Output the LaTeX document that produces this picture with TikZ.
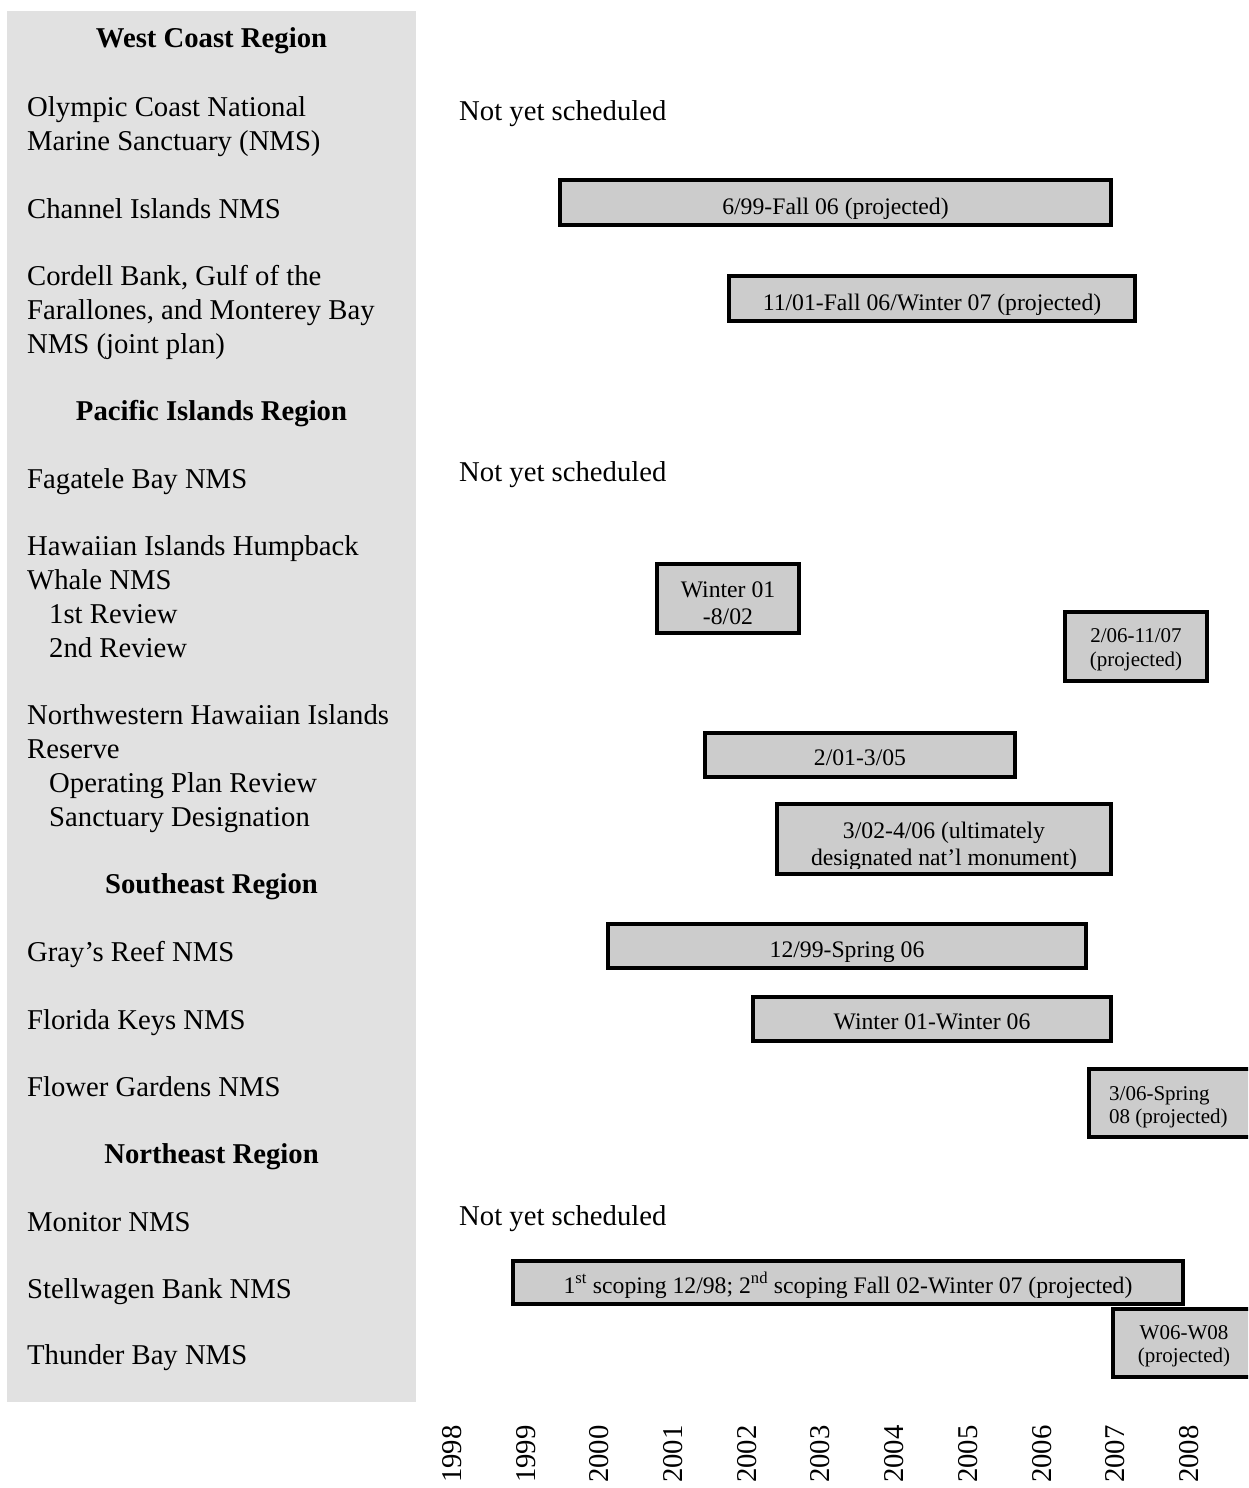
\documentclass[tikz,border=0pt]{standalone}
\usepackage{fontspec}
\setmainfont{Liberation Serif}
\definecolor{panelgray}{HTML}{E1E1E1}
\definecolor{barfill}{HTML}{CCCCCC}
\newcommand\fbig{\fontsize{28.7}{34}\selectfont}
\newcommand\fbar{\fontsize{23.7}{27}\selectfont}
\newcommand\fsml{\fontsize{21}{24}\selectfont}
\begin{document}
\begin{tikzpicture}[x=1pt,y=-1pt,
  lbl/.style={anchor=base west, inner sep=0, font=\fbig},
  head/.style={anchor=base, inner sep=0, font=\fbig\bfseries},
  bar/.style={draw, line width=4pt, fill=barfill, inner sep=0},
  bartext/.style={anchor=base, inner sep=0, font=\fbar},
  smalltext/.style={anchor=base, inner sep=0, font=\fsml},
  yearlbl/.style={rotate=90, inner sep=0, font=\fbig}]
\useasboundingbox (0,0) rectangle (1248,1488);
\clip (0,0) rectangle (1248,1488);
% left panel
\fill[panelgray] (7,11) rectangle (416,1402);
% region headers
\node[head] (hwc) at (211.5,48) {West Coast Region};
\node[head] (hpi) at (211.5,420) {Pacific Islands Region};
\node[head] (hse) at (211.5,893) {Southeast Region};
\node[head] (hne) at (211.5,1163) {Northeast Region};
% site labels
\foreach \y/\t in {116/{Olympic Coast National},150/{Marine Sanctuary (NMS)},
  218/{Channel Islands NMS},285/{Cordell Bank, Gulf of the},
  319/{Farallones, and Monterey Bay},353/{NMS (joint plan)},
  488/{Fagatele Bay NMS},555/{Hawaiian Islands Humpback},589/{Whale NMS},
  724/{Northwestern Hawaiian Islands},758/{Reserve},
  961/{Gray’s Reef NMS},1029/{Florida Keys NMS},1096/{Flower Gardens NMS},
  1231/{Monitor NMS},1298/{Stellwagen Bank NMS},1364/{Thunder Bay NMS}}
  \node[lbl] (s\y) at (27,\y) {\t};
\foreach \y/\t in {623/{1st Review},657/{2nd Review},792/{Operating Plan Review},826/{Sanctuary Designation}}
  \node[lbl] (s\y) at (49,\y) {\t};
% not yet scheduled
\node[lbl] (n1) at (459,120) {Not yet scheduled};
\node[lbl] (n2) at (459,481) {Not yet scheduled};
\node[lbl] (n3) at (459,1225) {Not yet scheduled};
% bars
\node[bar, minimum width=551pt, minimum height=45pt] (ch) at (835.5,202.5) {};
\begin{scope}
\clip (562,182) rectangle (1109,218.5);
\node[bartext] (cht) at (835.5,214) {6/99-Fall 06 (projected)};
\end{scope}
\node[bar, minimum width=406pt, minimum height=45pt] (cb) at (932,298.5) {};
\begin{scope}
\clip (731,278) rectangle (1133,314.5);
\node[bartext] (cbt) at (932,310) {11/01-Fall 06/Winter 07 (projected)};
\end{scope}
\node[bar, minimum width=142pt, minimum height=69pt] (h1) at (728,598.5) {};
\node[bartext] (h1a) at (728,597) {Winter 01};
\node[bartext] (h1b) at (728,624) {-8/02};
\node[bar, minimum width=142pt, minimum height=69pt] (h2) at (1136,646.5) {};
\node[smalltext] (h2a) at (1136,642) {2/06-11/07};
\node[smalltext] (h2b) at (1136,666) {(projected)};
\node[bar, minimum width=310pt, minimum height=44pt] (op) at (860,755) {};
\node[bartext] (opt) at (860,765) {2/01-3/05};
\node[bar, minimum width=334pt, minimum height=70pt] (sd) at (944,839) {};
\begin{scope}
\clip (777,804) rectangle (1111,868);
\node[bartext] (sda) at (944,838) {3/02-4/06 (ultimately};
\node[bartext] (sdb) at (944,865) {designated nat’l monument)};
\end{scope}
\node[bar, minimum width=478pt, minimum height=44pt] (gr) at (847,946) {};
\begin{scope}
\clip (610,926) rectangle (1084,961.5);
\node[bartext] (grt) at (847,957) {12/99-Spring 06};
\end{scope}
\node[bar, minimum width=358pt, minimum height=44pt] (fk) at (932,1019) {};
\node[bartext] (fkt) at (932,1029) {Winter 01-Winter 06};
\node[bar, minimum width=201pt, minimum height=68pt] (fg) at (1189.5,1103) {};
\node[smalltext, anchor=base west] (fga) at (1109,1100) {3/06-Spring};
\node[smalltext, anchor=base west] (fgb) at (1109,1123) {08 (projected)};
\node[bar, minimum width=670pt, minimum height=43pt] (sw) at (848,1282.5) {};
\begin{scope}
\clip (515,1263) rectangle (1181,1297.5);
\node[bartext] (swt) at (848,1293) {1\textsuperscript{st} scoping 12/98; 2\textsuperscript{nd} scoping Fall 02-Winter 07 (projected)};
\end{scope}
\node[bar, minimum width=177pt, minimum height=68pt] (tb) at (1201.5,1343) {};
\node[smalltext] (tba) at (1184,1339) {W06-W08};
\node[smalltext] (tbb) at (1184,1362) {(projected)};
% years
\foreach \i/\yr in {0/1998,1/1999,2/2000,3/2001,4/2002,5/2003,6/2004,7/2005,8/2006,9/2007,10/2008}
  \node[yearlbl] (y\yr) at ({452+73.7*\i},1454) {\yr};
\end{tikzpicture}
\end{document}
